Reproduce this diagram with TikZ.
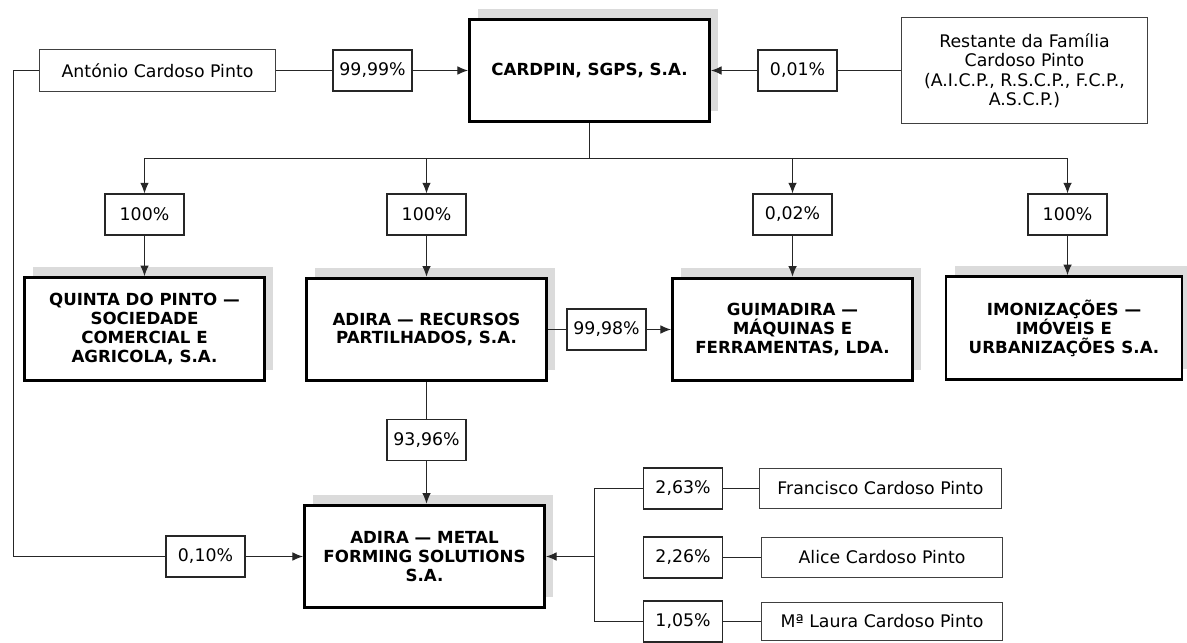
\documentclass[tikz,border=0pt]{standalone}
\usepackage{fontspec}
\setmainfont{DejaVu Sans}
\usepackage{tikz}
\usetikzlibrary{arrows,arrows.meta,shadows,calc}

\begin{document}
\begin{tikzpicture}[x=0.75pt, y=-0.75pt,
  company/.style={rectangle, draw=black, line width=2.2pt, fill=white, minimum width=180pt, minimum height=77pt, align=center, font=\fontsize{12.5}{14.2}\selectfont\bfseries,
    drop shadow={shadow xshift=6.4pt, shadow yshift=7.9pt, opacity=1, fill=black!14}},
  pct/.style={rectangle, draw=black!85, line width=1.1pt, fill=white, minimum width=59pt, minimum height=30.5pt, inner sep=0pt, font=\fontsize{13}{15}\selectfont},
  person/.style={rectangle, draw=black!75, line width=0.8pt, fill=white, minimum width=181pt, minimum height=30.5pt, align=center, font=\fontsize{13}{14.6}\selectfont},
  line/.style={draw=black!85, line width=0.8pt},
  arrow/.style={-{Latex[length=8pt,width=6.5pt]}, draw=black!85, line width=0.8pt}
]
\useasboundingbox (0,0) rectangle (1187,642);
% owners at the top
\node[person, minimum width=177pt, minimum height=32pt] (ant) at (157.5,70.5) {António Cardoso Pinto};
\node[pct] (p9999) at (372.5,70.5) {99,99\%};
\node[company] (cardpin) at (589.5,70.5) {CARDPIN, SGPS, S.A.};
\node[pct] (p001) at (797.5,70.5) {0,01\%};
\node[person, minimum width=184pt, minimum height=79pt] (rest) at (1024.5,70.5) {Restante da Família\\Cardoso Pinto\\(A.I.C.P., R.S.C.P., F.C.P.,\\A.S.C.P.)};
% holdings of CARDPIN
\node[pct] (p100a) at (144.5,214.5) {100\%};
\node[pct] (p100b) at (426.5,214.5) {100\%};
\node[pct] (p002) at (792.5,214.5) {0,02\%};
\node[pct] (p100c) at (1067.5,214.5) {100\%};
\node[company] (quinta) at (144.5,329) {QUINTA DO PINTO —\\SOCIEDADE\\COMERCIAL E\\AGRICOLA, S.A.};
\node[company] (adirarp) at (426.5,329.5) {ADIRA — RECURSOS\\PARTILHADOS, S.A.};
\node[pct] (p9998) at (606.5,329.5) {99,98\%};
\node[company] (guim) at (792.5,329.5) {GUIMADIRA —\\MÁQUINAS E\\FERRAMENTAS, LDA.};
\node[company, minimum width=177pt] (imo) at (1064,328) {IMONIZAÇÕES —\\IMÓVEIS E\\URBANIZAÇÕES S.A.};
% ADIRA metal forming
\node[pct] (p9396) at (426.5,440) {93,96\%};
\node[company] (mfs) at (424.5,556.5) {ADIRA — METAL\\FORMING SOLUTIONS\\S.A.};
\node[pct] (p010) at (205.5,556.5) {0,10\%};
\node[pct] (p263) at (683,488.5) {2,63\%};
\node[pct] (p226) at (683,557.5) {2,26\%};
\node[pct] (p105) at (683,621.5) {1,05\%};
\node[person] (fran) at (880.5,488.5) {Francisco Cardoso Pinto};
\node[person] (alice) at (882,557.5) {Alice Cardoso Pinto};
\node[person, minimum height=29pt] (laura) at (882,621.5) {Mª Laura Cardoso Pinto};
\coordinate (lft) at (13.5,70.5);
\coordinate (bus) at (589.5,158.5);
\coordinate (jn) at (594.5,556.5);

\draw[line] (ant) -- (p9999);
\draw[arrow] (p9999) -- (cardpin);
\draw[line] (rest) -- (p001);
\draw[arrow] (p001) -- (cardpin);
\foreach \p in {p100a,p100b,p002,p100c}
  \draw[arrow] (cardpin.south) -- (bus) -| (\p.north);
\draw[arrow] (p100a) -- (quinta);
\draw[arrow] (p100b) -- (adirarp);
\draw[arrow] (p002) -- (guim);
\draw[arrow] (p100c.south) -- (p100c |- imo.north);
\draw[line] (adirarp) -- (p9998);
\draw[arrow] (p9998) -- (guim);
\draw[line] (adirarp) -- (p9396);
\draw[arrow] (p9396.south) -- (p9396 |- mfs.north);
\draw[line] (ant.west) -- (lft) |- (p010.west);
\draw[arrow] (p010) -- (mfs);
\draw[line] (p263.west) -| (jn) |- (p105.west);
\draw[arrow] (jn) -- (mfs.east);
\draw[line] (p263) -- (fran);
\draw[line] (p226) -- (alice);
\draw[line] (p105) -- (laura);
\end{tikzpicture}
\end{document}
